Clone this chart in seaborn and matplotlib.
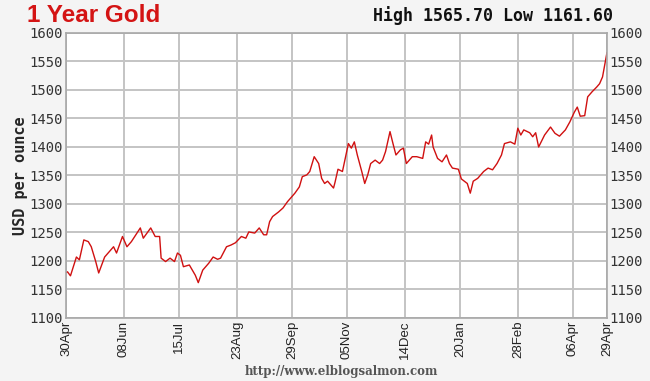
import matplotlib
matplotlib.use("Agg")
import matplotlib.pyplot as plt
import seaborn as sns
import pandas as pd

dates = [
    "2010-04-30", "2010-05-01", "2010-05-03", "2010-05-07", "2010-05-09", "2010-05-12",
    "2010-05-15", "2010-05-17", "2010-05-20", "2010-05-22", "2010-05-26", "2010-05-29",
    "2010-06-01", "2010-06-03", "2010-06-07", "2010-06-10", "2010-06-13", "2010-06-19",
    "2010-06-21", "2010-06-26", "2010-06-29", "2010-07-02", "2010-07-03", "2010-07-06",
    "2010-07-09", "2010-07-12", "2010-07-14", "2010-07-16", "2010-07-18", "2010-07-22",
    "2010-07-26", "2010-07-28", "2010-07-31", "2010-08-04", "2010-08-07", "2010-08-10",
    "2010-08-12", "2010-08-16", "2010-08-19", "2010-08-22", "2010-08-26", "2010-08-29",
    "2010-08-31", "2010-09-04", "2010-09-07", "2010-09-10", "2010-09-12", "2010-09-14",
    "2010-09-16", "2010-09-20", "2010-09-23", "2010-09-26", "2010-10-01", "2010-10-04",
    "2010-10-06", "2010-10-09", "2010-10-11", "2010-10-14", "2010-10-17", "2010-10-19",
    "2010-10-21", "2010-10-23", "2010-10-27", "2010-10-28", "2010-10-30", "2010-11-02",
    "2010-11-06", "2010-11-08", "2010-11-10", "2010-11-12", "2010-11-15", "2010-11-17",
    "2010-11-19", "2010-11-21", "2010-11-24", "2010-11-27", "2010-11-29", "2010-12-01",
    "2010-12-04", "2010-12-06", "2010-12-08", "2010-12-11", "2010-12-13", "2010-12-15",
    "2010-12-19", "2010-12-22", "2010-12-26", "2010-12-28", "2010-12-30", "2011-01-01",
    "2011-01-02", "2011-01-05", "2011-01-08", "2011-01-11", "2011-01-13", "2011-01-15",
    "2011-01-19", "2011-01-21", "2011-01-25", "2011-01-27", "2011-01-29", "2011-02-01",
    "2011-02-05", "2011-02-08", "2011-02-11", "2011-02-14", "2011-02-17", "2011-02-19",
    "2011-02-23", "2011-02-26", "2011-02-28", "2011-03-02", "2011-03-04", "2011-03-08",
    "2011-03-10", "2011-03-12", "2011-03-14", "2011-03-18", "2011-03-22", "2011-03-25",
    "2011-03-28", "2011-04-01", "2011-04-04", "2011-04-07", "2011-04-09", "2011-04-11",
    "2011-04-14", "2011-04-16", "2011-04-19", "2011-04-22", "2011-04-24", "2011-04-26",
    "2011-04-28", "2011-04-29",
]
prices = [
    1180, 1181, 1174, 1207, 1202, 1237,
    1234, 1225, 1199, 1179, 1207, 1216,
    1225, 1214, 1243, 1225, 1234, 1258,
    1240, 1258, 1243, 1243, 1205, 1199,
    1205, 1199, 1214, 1210, 1190, 1193,
    1175, 1162, 1184, 1196, 1207, 1203,
    1205, 1225, 1228, 1232, 1243, 1240,
    1251, 1249, 1258, 1246, 1246, 1269,
    1278, 1286, 1293, 1304, 1319, 1330,
    1348, 1351, 1357, 1383, 1371, 1345,
    1336, 1340, 1328, 1338, 1361, 1357,
    1406, 1398, 1409, 1386, 1357, 1336,
    1351, 1371, 1377, 1371, 1377, 1392,
    1427, 1406, 1386, 1395, 1398, 1371,
    1383, 1383, 1380, 1409, 1405, 1421,
    1400, 1380, 1374, 1386, 1371, 1363,
    1361, 1344, 1336, 1319, 1340, 1345,
    1357, 1363, 1360, 1371, 1386, 1406,
    1409, 1405, 1433, 1421, 1430, 1425,
    1418, 1425, 1400, 1421, 1435, 1424,
    1419, 1430, 1444, 1461, 1470, 1454,
    1455, 1488, 1497, 1505, 1511, 1523,
    1551, 1566,
]
tick_dates = ["2010-04-30", "2010-06-08", "2010-07-15", "2010-08-23", "2010-09-29",
              "2010-11-05", "2010-12-14", "2011-01-20", "2011-02-28", "2011-04-06",
              "2011-04-29"]
tick_labels = ["30Apr", "08Jun", "15Jul", "23Aug", "29Sep", "05Nov", "14Dec",
               "20Jan", "28Feb", "06Apr", "29Apr"]
y_ticks = [1100, 1150, 1200, 1250, 1300, 1350, 1400, 1450, 1500, 1550, 1600]

title = "1 Year Gold"
subtitle = "High 1565.70 Low 1161.60"
ylabel = "USD per ounce"
source = "http://www.elblogsalmon.com"

df = pd.DataFrame({"date": pd.to_datetime(dates), "price": prices})

sns.set_style("whitegrid")
fig = plt.figure(figsize=(6.5, 3.81), dpi=100, facecolor="#f4f4f4")
ax = fig.add_axes([66 / 650, 1 - 318 / 381, (607 - 66) / 650, (318 - 33) / 381])
ax.set_facecolor("white")

sns.lineplot(data=df, x="date", y="price", ax=ax, color="#d01010", linewidth=1.0)

ax.set_xlim(pd.Timestamp(tick_dates[0]), pd.Timestamp(tick_dates[-1]))
ax.set_ylim(y_ticks[0], y_ticks[-1])
ax.set_xticks(pd.to_datetime(tick_dates))
ax.set_xticklabels(tick_labels, rotation=90, fontsize=9.5, family="Liberation Sans", color="#222222")
ax.set_yticks(y_ticks)
ax.set_yticklabels([str(v) for v in y_ticks], fontsize=10, family="DejaVu Sans Mono", color="#333333")
ax.tick_params(axis="both", length=0, pad=2)
ax.tick_params(axis="y", labelright=True, right=True)

ax.grid(True, color="#c4c4c4", linewidth=1.4)
for s in ax.spines.values():
    s.set_color("#a8a8a8")
    s.set_linewidth(1.2)

ax.set_xlabel("")
ax.set_ylabel(ylabel, fontsize=11, fontweight="bold", family="DejaVu Sans Mono", labelpad=1)

fig.text(27 / 650, 1 - 4 / 381, title, color="#d41414", fontsize=17.5,
         fontweight="bold", family="Liberation Sans", va="top", ha="left")
fig.text(613 / 650, 1 - 6 / 381, subtitle, color="#111111", fontsize=12,
         fontweight="bold", family="DejaVu Sans Mono", va="top", ha="right")
fig.text(0.525, 0.008, source, color="#555555", fontsize=8.5, fontweight="bold",
         family="DejaVu Serif", va="bottom", ha="center")

fig.savefig("out.png", dpi=100, facecolor=fig.get_facecolor())
